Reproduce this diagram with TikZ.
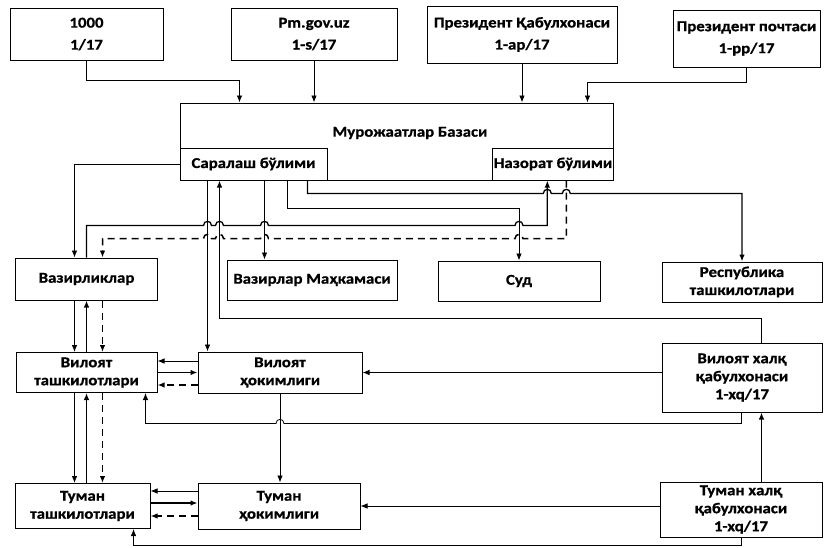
\documentclass[tikz,border=0pt]{standalone}
\usepackage{fontspec}
\setmainfont{Carlito}[FakeStretch=1.12,BoldFeatures={FakeBold=0.8}]
\usetikzlibrary{arrows.meta,calc}
% small bridge where a line jumps over another one
\newcommand{\hop}{.. controls +(0,-5.5) and +(0,-5.5) ..}

\begin{document}
\begin{tikzpicture}[x=1pt,y=-1pt,
    box/.style={draw,line width=1pt,inner sep=1pt,align=center,
      font=\fontsize{15}{18}\selectfont\bfseries},
    link/.style={line width=0.8pt},
    boldlink/.style={line width=1.3pt},
    dashlink/.style={line width=1.5pt,dash pattern=on 7pt off 5pt},
    >={Latex[length=7pt,width=5.5pt]}]
  \useasboundingbox (0,0) rectangle (825,547);

  % sources
  \node[box,minimum width=153,minimum height=52] (src1) at (86.5,34) {1000\\[4pt]1/17};
  \node[box,minimum width=166,minimum height=52] (src2) at (314,34) {Pm.gov.uz\\[4pt]1-s/17};
  \node[box,minimum width=190,minimum height=57] (src3) at (522,34.5) {Президент Қабулхонаси\\[4pt]1-ap/17};
  \node[box,minimum width=147,minimum height=57] (src4) at (746.5,38.5) {Президент почтаси\\[4pt]1-pp/17};

  % database with its two departments
  \node[box,minimum width=433,minimum height=77] (base) at (396.5,141.5) {};
  \node[font=\fontsize{15}{18}\selectfont\bfseries] (baselbl) at (410,133) {Мурожаатлар Базаси};
  \node[box,minimum width=147,minimum height=32] (sar) at (253.5,164) {Саралаш бўлими};
  \node[box,minimum width=120,minimum height=32] (naz) at (553,164) {Назорат бўлими};

  % receivers
  \node[box,minimum width=142,minimum height=42] (vaz) at (86.5,279) {Вазирликлар};
  \node[box,minimum width=170,minimum height=40] (vm) at (312,280) {Вазирлар Маҳкамаси};
  \node[box,minimum width=162,minimum height=40] (sud) at (519,281) {Суд};
  \node[box,minimum width=160,minimum height=40] (resp) at (742,282) {Республика\\ташкилотлари};

  % region level
  \node[box,minimum width=141,minimum height=40] (vt) at (86.5,372.5) {Вилоят\\ташкилотлари};
  \node[box,minimum width=164,minimum height=41] (vh) at (280,372.5) {Вилоят\\ҳокимлиги};
  \node[box,minimum width=160,minimum height=69] (vq) at (742,377.5) {Вилоят халқ\\қабулхонаси\\1-xq/17};

  % district level
  \node[box,minimum width=135,minimum height=45] (tt) at (82.5,506) {Туман\\ташкилотлари};
  \node[box,minimum width=162,minimum height=46] (th) at (279,506) {Туман\\ҳокимлиги};
  \node[box,minimum width=162,minimum height=55] (tq) at (741,509.5) {Туман халқ\\қабулхонаси\\1-xq/17};

  % taps under the departments
  \coordinate (sA) at ([xshift=28]sar.south west);
  \coordinate (sB) at ([xshift=40]sar.south west);
  \coordinate (sC) at ([xshift=85]sar.south west);
  \coordinate (sD) at ([xshift=108]sar.south west);
  \coordinate (sE) at ([xshift=128]sar.south west);
  \coordinate (nA) at ([xshift=55]naz.south west);
  \coordinate (nB) at ([xshift=74]naz.south west);
  \coordinate (qR) at ([xshift=100]vq.south west);
  \coordinate (cL) at ([xshift=-12]vt.south);
  \coordinate (cM) at (vt.south);
  \coordinate (cR) at ([xshift=16]vt.south);

  % into the database
  \draw[link,->] (src1.south) -- ++(0,20) -| ([xshift=60]base.north west);
  \draw[link,->] (src2.south) -- (src2.south |- base.north);
  \draw[link,->] (src3.south) -- (src3.south |- base.north);
  \draw[link,->] (src4.south) -- ++(0,15) -| ([xshift=-26]base.north east);

  % out of the sorting department
  \draw[link,->] (sar.west) -| ([xshift=-12]vaz.north);
  \draw[link,->] (sA) -- (sA |- vh.north);
  \draw[boldlink,->] ([xshift=100]vq.north west) |- ($(sB)+(0,138)$) -- (sB);
  \draw[link,->] (sC) -- (sC |- vm.north);
  \draw[link,->] (sD) -- ($(sD)+(0,28)$) -| (sud.north);
  \draw[boldlink,->] (sE) -- ($(sE)+(0,13)$)
    -- ($(nA)+(-4,13)$) \hop ($(nA)+(4,13)$)
    -- ($(nB)+(-4,13)$) \hop ($(nB)+(4,13)$)
    -| (resp.north);

  % control department
  \draw[boldlink,->] (vaz.north) -- ($(vaz.north |- sA)+(0,45)$)
    -- ($(sA)+(-4,45)$) \hop ($(sA)+(4,45)$)
    -- ($(sB)+(-4,45)$) \hop ($(sB)+(4,45)$)
    -- ($(sC)+(-4,45)$) \hop ($(sC)+(4,45)$)
    -- ($(sud.north |- sA)+(-4,45)$) \hop ($(sud.north |- sA)+(4,45)$)
    -| (nA);
  \draw[dashlink,->] (nB) -- ($(nB)+(0,58)$)
    -- ($(sud.north |- sA)+(4,58)$) \hop ($(sud.north |- sA)+(-4,58)$)
    -- ($(sC)+(4,58)$) \hop ($(sC)+(-4,58)$)
    -- ($(sB)+(4,58)$) \hop ($(sB)+(-4,58)$)
    -- ($(sA)+(4,58)$) \hop ($(sA)+(-4,58)$)
    -| ([xshift=16]vaz.north);

  % ministries down to the regions and districts
  \draw[link,->] ([xshift=-12]vaz.south) -- ([xshift=-12]vt.north);
  \draw[boldlink,->] (vt.north) -- (vaz.south);
  \draw[dashlink,->] ([xshift=16]vaz.south) -- ([xshift=16]vt.north);
  \draw[link,->] (cL) -- (cL |- tt.north);
  \draw[boldlink,->] (cM |- tt.north) -- (cM);
  \draw[dashlink,->] (cR) -- (cR |- tt.north);

  % region: hokimlik and organisations
  \draw[link,->] ($(vh.west)+(0,-11.5)$) -- ($(vt.east)+(0,-11.5)$);
  \draw[boldlink,->] (vt.east) -- (vh.west);
  \draw[dashlink,->] ($(vh.west)+(0,12.5)$) -- ($(vt.east)+(0,12.5)$);
  \draw[link,->] (vq.west |- vh.east) -- (vh.east);
  \draw[link,->] ([xshift=80]vq.south west) -- ++(0,11)
    -- ($(vh.south)+(4,30)$) \hop ($(vh.south)+(-4,30)$)
    -| ([xshift=-12]vt.south east);
  \draw[link,->] (vh.south) -- (vh.south |- th.north);

  % district: hokimlik and organisations
  \draw[link,->] ($(th.west)+(0,-15)$) -- ($(tt.east)+(0,-15)$);
  \draw[boldlink,->] ($(tt.east)+(0,-3)$) -- ($(th.west)+(0,-3)$);
  \draw[dashlink,->] ($(th.west)+(0,10)$) -- ($(tt.east)+(0,10)$);
  \draw[boldlink,->] (qR |- tq.north) -- (qR);
  \draw[link,->] (tq.west |- th.east) -- (th.east);
  \draw[link,->] ([xshift=82]tq.south west) -- ++(0,8) -| ([xshift=-17]tt.south east);
\end{tikzpicture}
\end{document}
